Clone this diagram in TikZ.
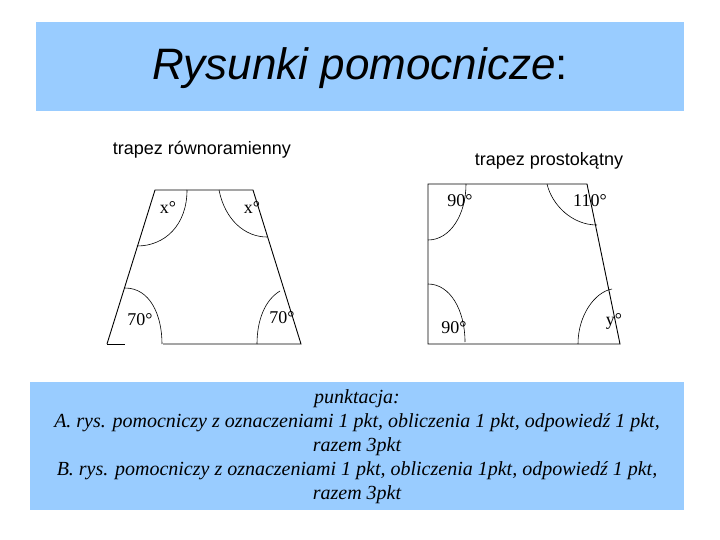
\documentclass[tikz,border=0pt]{standalone}
\usepackage{fontspec}
\setmainfont{Liberation Serif}
\newfontfamily\arial{Liberation Sans}
\definecolor{boxblue}{HTML}{99CCFF}
\begin{document}
\begin{tikzpicture}[x=1pt,y=-1pt,
  edge/.style={line width=0.9pt,black},
  arcl/.style={line width=0.6pt,black},
  deg/.style={font=\fontsize{18}{20}\selectfont,inner sep=1pt},
  captext/.style={font=\arial\fontsize{18}{20}\selectfont}]
\useasboundingbox (0,0) rectangle (720,540);
\fill[white] (0,0) rectangle (720,540);
\fill[boxblue] (36,22) rectangle (684,111);
\node[font=\arial\itshape\fontsize{44}{50}\selectfont] (title) at (360,68) {Rysunki pomocnicze\upshape:};
\node[captext] (c1) at (202,150) {trapez równoramienny};
\node[captext] (c2) at (549,161) {trapez prostokątny};
% left trapezoid
\draw[edge] (107,344) -- (155,190) -- (253,190) -- (301,344) -- (163,344);
\draw[edge] (107,344) -- (125,344);
\draw[arcl] (187,190) .. controls (187,225) and (165,246) .. (137,246);
\draw[arcl] (219,190) .. controls (225,220) and (245,237) .. (267,237);
\draw[arcl] (125,288) .. controls (150,288) and (162,315) .. (162,344);
\draw[arcl] (280,291) .. controls (265,300) and (257,320) .. (257,344);
\node[deg] (a1) at (168,208) {x°};
\node[deg] (a2) at (252,208) {x°};
\node[deg] (a3) at (140,320) {70°};
\node[deg] (a4) at (282,318) {70°};
% right trapezoid
\draw[edge] (428,184) -- (587,184) -- (620,344) -- (428,344) -- cycle;
\draw[arcl] (466,184) .. controls (466,215) and (450,240) .. (428,240);
\draw[arcl] (547,184) .. controls (552,205) and (572,225) .. (597,225);
\draw[arcl] (428,284) .. controls (450,284) and (465,310) .. (465,342);
\draw[arcl] (612,289) .. controls (595,292) and (578,315) .. (578,344);
\node[deg] (b1) at (460,201) {90°};
\node[deg] (b2) at (590,201) {110°};
\node[deg] (b3) at (454,328) {90°};
\node[deg] (b4) at (614,321) {y°};
% bottom box
\fill[boxblue] (30,382) rectangle (684,510);
\node[align=center,font=\itshape\fontsize{20}{24}\selectfont] (pt) at (357,447)
{punktacja:\\A. rys. pomocniczy z oznaczeniami 1 pkt, obliczenia 1 pkt, odpowiedź 1 pkt,\\razem 3pkt\\B. rys. pomocniczy z oznaczeniami 1 pkt, obliczenia 1pkt, odpowiedź 1 pkt,\\razem 3pkt};
\end{tikzpicture}
\end{document}
